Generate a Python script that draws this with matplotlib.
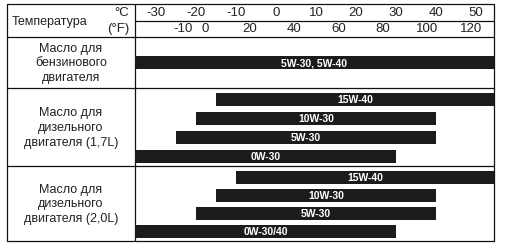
import matplotlib
matplotlib.use('Agg')
import matplotlib.pyplot as plt

plt.rcParams['font.family'] = ['Liberation Sans', 'DejaVu Sans']

# temperature scale
celsius_ticks = [-30, -20, -10, 0, 10, 20, 30, 40, 50]
fahrenheit_ticks = [-10, 0, 20, 40, 60, 80, 100, 120]

# oil groups (None = open end of the scale)
group_labels = ['Масло для\nбензинового\nдвигателя',
                'Масло для\nдизельного\nдвигателя (1,7L)',
                'Масло для\nдизельного\nдвигателя (2,0L)']

gas_grades = ['5W-30, 5W-40']
gas_low = [None]
gas_high = [None]

d17_grades = ['15W-40', '10W-30', '5W-30', '0W-30']
d17_low = [-15, -20, -25, None]
d17_high = [None, 40, 40, 30]

d20_grades = ['15W-40', '10W-30', '5W-30', '0W-30/40']
d20_low = [-10, -15, -20, None]
d20_high = [None, 40, 40, 30]

groups = [(gas_grades, gas_low, gas_high),
          (d17_grades, d17_low, d17_high),
          (d20_grades, d20_low, d20_high)]

# layout in pixels
W, H = 510, 248
left, right, top, bottom = 7, 494, 4, 241
col_div = 135
head_mid, head_bot = 20.5, 37
sections = [37, 88, 166, 241]
bar_h = 13
xlim = (-35.3, 54.5)
txt = '#222222'
bar_col = '#1c1c1c'

fig = plt.figure(figsize=(W / 100, H / 100), dpi=100)


def box(x0, y0, x1, y1):
    return [x0 / W, 1 - y1 / H, (x1 - x0) / W, (y1 - y0) / H]


bg = fig.add_axes([0, 0, 1, 1])
bg.set_xlim(0, W)
bg.set_ylim(H, 0)
bg.axis('off')

# header
hx = fig.add_axes(box(col_div, top, right, head_bot))
hx.set_xlim(*xlim)
hx.set_ylim(head_bot, top)
hx.axis('off')
for c in celsius_ticks:
    hx.text(c, (top + head_mid) / 2 + 0.5, str(c), ha='center', va='center',
            fontsize=9.5, color=txt)
for f in fahrenheit_ticks:
    hx.text((f - 32) * 5 / 9, (head_mid + head_bot) / 2 + 0.5, str(f),
            ha='center', va='center', fontsize=9.5, color=txt)

bg.text(12, (top + head_bot) / 2 + 1.5, 'Температура', ha='left', va='center',
        fontsize=9, color=txt)
bg.text(129, (top + head_mid) / 2 + 0.5, '°C', ha='right', va='center',
        fontsize=9.5, color=txt)
bg.text(129, (head_mid + head_bot) / 2 + 0.5, '(°F)', ha='right', va='center',
        fontsize=9.5, color=txt)

# bars
ax = fig.add_axes(box(col_div, head_bot, right, bottom))
ax.set_xlim(*xlim)
ax.set_ylim(bottom, head_bot)
ax.axis('off')

for i, (grades, lows, highs) in enumerate(groups):
    s0, s1 = sections[i], sections[i + 1]
    n = len(grades)
    if n == 1:
        ys = [(s0 + s1) / 2]
    else:
        a, b = s0 + 5, s1 - 3
        gap = (b - a - n * bar_h) / (n - 1)
        ys = [a + bar_h / 2 + k * (bar_h + gap) for k in range(n)]
    for g, lo, hi, y in zip(grades, lows, highs, ys):
        lo = xlim[0] if lo is None else lo
        hi = xlim[1] if hi is None else hi
        ax.barh(y, hi - lo, left=lo, height=bar_h, color=bar_col)
        ax.text((lo + hi) / 2, y + 0.5, g, ha='center', va='center',
                color='white', fontsize=7.5, fontweight='bold')
    bg.text((left + col_div) / 2, (s0 + s1) / 2 + 1, group_labels[i],
            ha='center', va='center', fontsize=9, color=txt, linespacing=1.3)

# table lines
lw = 0.9
kw = dict(color='#111111', lw=lw, solid_capstyle='butt')
bg.plot([left, right, right, left, left], [top, top, bottom, bottom, top], **kw)
bg.plot([col_div, col_div], [top, bottom], **kw)
bg.plot([col_div, right], [head_mid, head_mid], **kw)
for y in [head_bot] + sections[1:-1]:
    bg.plot([left, right], [y, y], **kw)

fig.savefig('out.png', dpi=100)
